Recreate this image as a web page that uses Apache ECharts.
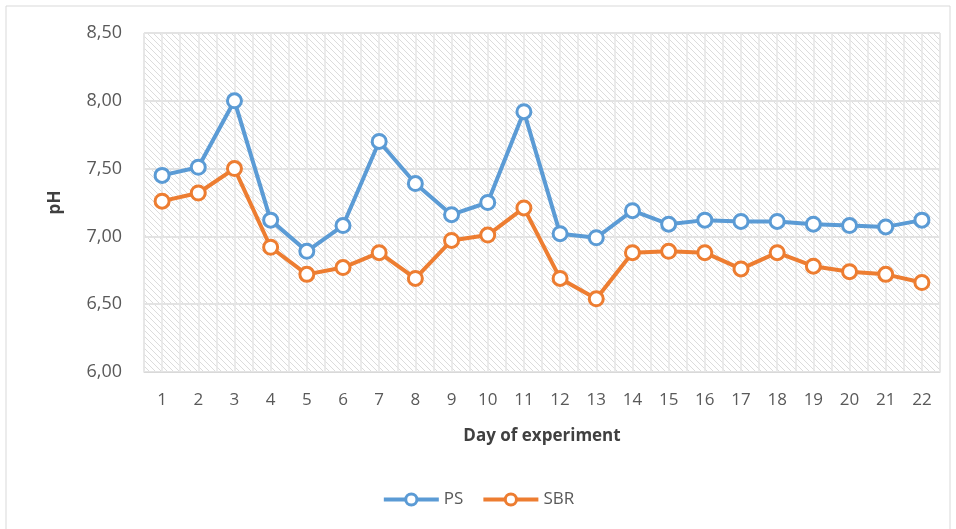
<!DOCTYPE html>
<html>
<head>
<meta charset="utf-8">
<script src="https://cdn.jsdelivr.net/npm/echarts@6/dist/echarts.min.js"></script>
<style>
  html, body { margin: 0; padding: 0; background: #fff; }
  #chart { width: 956px; height: 529px; }
</style>
</head>
<body>
<div id="chart"></div>
<script>
// data
const days = ['1','2','3','4','5','6','7','8','9','10','11','12','13','14','15','16','17','18','19','20','21','22'];
const ps  = [7.45, 7.51, 8.00, 7.12, 6.89, 7.08, 7.70, 7.39, 7.16, 7.25, 7.92, 7.02, 6.99, 7.19, 7.09, 7.12, 7.11, 7.11, 7.09, 7.08, 7.07, 7.12];
const sbr = [7.26, 7.32, 7.50, 6.92, 6.72, 6.77, 6.88, 6.69, 6.97, 7.01, 7.21, 6.69, 6.54, 6.88, 6.89, 6.88, 6.76, 6.88, 6.78, 6.74, 6.72, 6.66];

// hatched background like the excel pattern fill
const makeHatch = () => {
  const c = document.createElement('canvas');
  c.width = 6; c.height = 6;
  const ctx = c.getContext('2d');
  ctx.fillStyle = '#ffffff';
  ctx.fillRect(0, 0, 6, 6);
  ctx.strokeStyle = '#dcdcdc';
  ctx.lineWidth = 1;
  ctx.beginPath();
  ctx.moveTo(-1, -1); ctx.lineTo(7, 7);
  ctx.moveTo(-4, 2); ctx.lineTo(4, 10);
  ctx.moveTo(2, -4); ctx.lineTo(10, 4);
  ctx.stroke();
  return c;
};

const font = '"Open Sans", "Liberation Sans", sans-serif';
const mycharts = echarts.init(document.getElementById('chart'));

const lineSeries = (name, data, color) => ({
  name: name,
  type: 'line',
  data: data,
  symbol: 'circle',
  symbolSize: 14,
  lineStyle: { color: color, width: 4 },
  itemStyle: { color: '#ffffff', borderColor: color, borderWidth: 3 },
  emphasis: { disabled: true },
  z: name === 'PS' ? 4 : 3
});

const options = {
  animation: false,
  textStyle: { fontFamily: font },
  graphic: [{
    type: 'rect',
    shape: { x: 6, y: 6, width: 944, height: 540 },
    style: { fill: 'none', stroke: '#d9d9d9', lineWidth: 1 },
    silent: true
  }],
  grid: {
    left: 144, right: 16, top: 33, bottom: 157,
    show: true,
    backgroundColor: { image: makeHatch(), repeat: 'repeat' },
    borderColor: '#d9d9d9',
    borderWidth: 1
  },
  legend: {
    bottom: 16,
    left: 'center',
    itemWidth: 55,
    itemHeight: 14,
    itemGap: 18,
    lineStyle: { width: 4 },
    itemStyle: { borderWidth: 3 },
    textStyle: { fontSize: 17, color: '#595959', fontFamily: font },
    data: ['PS', 'SBR']
  },
  xAxis: [{
    type: 'category',
    data: days,
    name: 'Day of experiment',
    nameLocation: 'middle',
    nameGap: 56,
    nameTextStyle: { fontSize: 17, fontWeight: 'bold', color: '#404040' },
    axisLine: { lineStyle: { color: '#d9d9d9', width: 1 } },
    axisTick: { show: false },
    axisLabel: { fontSize: 17, color: '#595959', margin: 20 },
    splitLine: { show: false }
  }, {
    type: 'value',
    min: 0.5, max: 22.5, interval: 0.5,
    show: true,
    axisLine: { show: false },
    axisTick: { show: false },
    axisLabel: { show: false },
    splitLine: { show: true, lineStyle: { color: '#e6e6e6', width: 1.5 } }
  }],
  yAxis: {
    type: 'value',
    min: 6, max: 8.5, interval: 0.5,
    name: 'pH',
    nameLocation: 'middle',
    nameGap: 80,
    nameRotate: 90,
    nameTextStyle: { fontSize: 17, fontWeight: 'bold', color: '#404040' },
    axisLine: { show: false },
    axisTick: { show: false },
    axisLabel: {
      fontSize: 18, color: '#595959', margin: 22,
      formatter: (v) => v.toFixed(2).replace('.', ',')
    },
    splitLine: { lineStyle: { color: '#e3e3e3', width: 2 } }
  },
  series: [lineSeries('PS', ps, '#5B9BD5'), lineSeries('SBR', sbr, '#ED7D31')]
};
mycharts.setOption(options);
</script>
</body>
</html>
